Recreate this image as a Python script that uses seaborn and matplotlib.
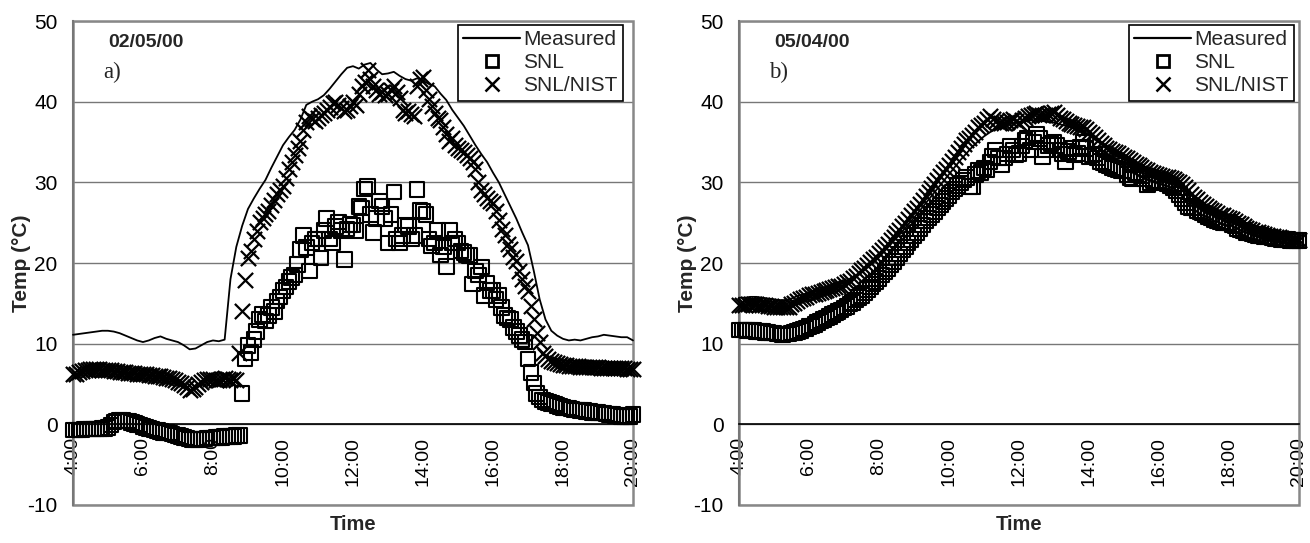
import numpy as np
import pandas as pd
import matplotlib
matplotlib.use('Agg')
import matplotlib.pyplot as plt
from matplotlib.lines import Line2D
from matplotlib.patches import Rectangle
import seaborn as sns

# model results every 5 minutes, measured line every 10 minutes (4:00 - 20:00)
minutes_5 = np.arange(0, 961, 5)
minutes_10 = np.arange(0, 961, 10)
hours_5 = 4 + minutes_5 / 60.0
hours_10 = 4 + minutes_10 / 60.0

tick_hours = [4, 6, 8, 10, 12, 14, 16, 18, 20]
tick_labels = ['4:00', '6:00', '8:00', '10:00', '12:00', '14:00', '16:00', '18:00', '20:00']
y_ticks = [-10, 0, 10, 20, 30, 40, 50]

# ---- panel a) 02/05/00 ----
a_measured = [
    11.1, 11.2, 11.3, 11.4, 11.5, 11.6,
    11.6, 11.5, 11.3, 11.0, 10.7, 10.4,
    10.2, 10.4, 10.7, 10.9, 10.6, 10.4,
    10.2, 9.8, 9.3, 9.4, 9.8, 10.2,
    10.4, 10.3, 10.5, 18.0, 22.0, 24.6,
    26.7, 28.0, 29.2, 30.3, 31.8, 33.2,
    34.6, 35.6, 36.5, 37.8, 39.6, 40.0,
    40.3, 40.8, 41.6, 42.5, 43.4, 44.2,
    44.4, 44.1, 44.6, 44.8, 44.0, 43.4,
    43.5, 43.7, 43.2, 42.8, 42.6, 42.9,
    42.6, 42.2, 41.9, 41.0, 40.2, 39.0,
    38.0, 37.0, 35.8, 34.6, 33.5, 32.5,
    31.2, 30.0, 28.5, 27.0, 25.5, 23.8,
    22.2, 19.0, 15.5, 13.0, 11.6, 11.0,
    10.6, 10.4, 10.5, 10.4, 10.6, 10.8,
    10.9, 11.1, 11.0, 10.9, 10.8, 10.8,
    10.4,
]
a_snl = [
    -0.7, -0.7, -0.7, -0.7, -0.6, -0.6, -0.6, -0.6, -0.6, -0.6, -0.5, -0.5,
    -0.4, -0.1, 0.3, 0.4, 0.5, 0.5, 0.4, 0.4, 0.2, 0.1, 0.0, -0.1,
    -0.3, -0.4, -0.5, -0.6, -0.7, -0.8, -0.9, -1.0, -1.0, -1.1, -1.2, -1.3,
    -1.4, -1.5, -1.6, -1.7, -1.8, -1.9, -1.9, -1.9, -1.8, -1.8, -1.7, -1.7,
    -1.7, -1.6, -1.6, -1.6, -1.5, -1.5, -1.5, -1.5, -1.4, -1.4, 3.8, 8.1,
    9.8, 8.9, 10.5, 11.5, 13.0, 13.6, 12.8, 13.5, 14.5, 14.0, 15.3, 15.8,
    16.6, 17.0, 17.7, 18.2, 18.5, 19.8, 21.7, 23.4, 21.9, 19.0, 22.5, 23.0,
    23.0, 20.6, 24.0, 25.5, 23.0, 22.5, 24.5, 25.1, 24.0, 20.4, 24.2, 24.8,
    24.7, 24.0, 27.0, 26.8, 29.2, 29.5, 26.0, 23.8, 25.5, 27.7, 27.0, 25.5,
    22.5, 26.0, 28.8, 23.0, 22.5, 23.4, 24.7, 24.5, 23.0, 23.4, 29.1, 26.5,
    26.4, 26.0, 23.0, 22.1, 22.5, 24.0, 21.0, 22.0, 19.6, 24.0, 22.5, 23.0,
    22.5, 21.5, 21.3, 21.0, 20.9, 17.4, 19.0, 18.5, 19.5, 16.0, 17.5, 16.6,
    16.6, 15.5, 16.0, 14.5, 13.5, 13.2, 13.0, 12.0, 11.5, 11.0, 10.5, 10.2,
    8.1, 6.4, 5.1, 3.8, 3.4, 3.0, 2.8, 2.7, 2.6, 2.5, 2.3, 2.2,
    2.1, 2.0, 2.0, 1.9, 1.8, 1.8, 1.7, 1.7, 1.6, 1.6, 1.5, 1.5,
    1.5, 1.4, 1.4, 1.3, 1.2, 1.2, 1.1, 1.1, 1.0, 1.0, 1.0, 1.0,
    1.2,
]
a_nist = [
    6.2, 6.3, 6.5, 6.6, 6.7, 6.7, 6.8, 6.8, 6.8, 6.8, 6.7, 6.7,
    6.7, 6.7, 6.6, 6.6, 6.5, 6.5, 6.5, 6.4, 6.4, 6.4, 6.3, 6.3,
    6.2, 6.2, 6.1, 6.1, 6.0, 6.0, 6.0, 5.9, 5.8, 5.7, 5.6, 5.5,
    5.3, 5.1, 4.9, 4.6, 4.3, 4.4, 4.6, 5.0, 5.3, 5.5, 5.6, 5.6,
    5.6, 5.5, 5.5, 5.6, 5.7, 5.6, 5.5, 5.6, 5.5, 8.9, 14.1, 17.9,
    20.6, 21.5, 23.0, 24.0, 25.1, 25.6, 26.1, 26.5, 27.2, 27.8, 28.5, 29.0,
    29.5, 30.5, 31.7, 32.5, 33.4, 34.2, 35.1, 36.5, 37.5, 38.2, 37.8, 37.6,
    38.0, 38.3, 38.6, 39.0, 39.4, 39.8, 40.0, 39.6, 39.2, 38.8, 39.0, 39.5,
    40.0, 39.6, 41.0, 42.0, 42.5, 43.9, 42.8, 42.0, 41.5, 40.9, 41.2, 40.8,
    41.0, 41.5, 42.0, 41.2, 40.5, 39.0, 38.6, 38.8, 38.5, 38.2, 42.0, 42.8,
    43.0, 41.5, 40.3, 39.5, 38.6, 38.0, 37.7, 36.8, 36.0, 35.1, 35.5, 34.6,
    34.2, 34.0, 33.8, 33.4, 33.0, 32.5, 31.7, 30.0, 29.1, 28.5, 28.0, 27.7,
    27.4, 26.5, 25.3, 24.2, 23.5, 22.3, 21.7, 20.8, 20.2, 19.0, 18.0, 17.2,
    16.5, 14.7, 13.0, 11.3, 10.2, 8.9, 8.5, 8.1, 7.9, 7.7, 7.6, 7.5,
    7.3, 7.3, 7.2, 7.2, 7.2, 7.2, 7.1, 7.1, 7.1, 7.1, 7.1, 7.1,
    7.1, 7.0, 7.0, 7.0, 7.0, 7.0, 7.0, 7.0, 7.0, 7.0, 6.9, 6.9,
    6.9,
]

# ---- panel b) 05/04/00 ----
b_measured = [
    15.7, 15.7, 15.8, 15.8, 15.7, 15.6,
    15.5, 15.4, 15.4, 15.6, 15.9, 16.1,
    16.3, 16.5, 16.7, 16.9, 17.1, 17.3,
    17.6, 17.9, 18.3, 18.8, 19.4, 20.0,
    20.7, 21.5, 22.3, 23.1, 23.9, 24.8,
    25.6, 26.5, 27.4, 28.3, 29.2, 30.1,
    31.0, 31.9, 32.8, 33.6, 34.4, 35.1,
    35.7, 36.2, 36.6, 36.9, 37.1, 37.3,
    37.5, 37.6, 37.7, 37.7, 37.6, 37.5,
    37.4, 37.2, 37.0, 36.8, 36.5, 36.2,
    35.8, 35.3, 34.8, 34.3, 33.8, 33.3,
    32.9, 32.5, 32.1, 31.7, 31.3, 31.0,
    30.7, 30.4, 30.1, 29.8, 29.3, 28.7,
    28.1, 27.5, 27.0, 26.5, 26.1, 25.8,
    25.5, 25.1, 24.8, 24.5, 24.2, 24.0,
    23.8, 23.6, 23.4, 23.3, 23.2, 23.1,
    23.0,
]
b_snl = [
    11.7, 11.7, 11.7, 11.6, 11.6, 11.6, 11.5, 11.5, 11.5, 11.4, 11.4, 11.3,
    11.3, 11.2, 11.2, 11.1, 11.2, 11.2, 11.3, 11.4, 11.5, 11.6, 11.8, 11.9,
    12.1, 12.2, 12.4, 12.6, 12.8, 13.0, 13.2, 13.4, 13.6, 13.8, 14.0, 14.2,
    14.4, 14.6, 14.9, 15.1, 15.4, 15.7, 16.0, 16.3, 16.7, 17.0, 17.4, 17.7,
    18.1, 18.5, 18.9, 19.3, 19.8, 20.2, 20.7, 21.1, 21.6, 22.0, 22.5, 22.9,
    23.4, 23.8, 24.3, 24.7, 25.2, 25.6, 26.0, 26.4, 26.8, 27.2, 27.6, 28.0,
    28.4, 28.8, 29.2, 29.6, 29.9, 30.3, 30.6, 29.5, 29.5, 31.0, 31.5, 31.2,
    31.8, 31.6, 32.5, 33.2, 34.0, 33.0, 32.2, 33.0, 33.5, 34.5, 34.0, 33.4,
    33.6, 34.5, 35.2, 35.5, 34.0, 35.0, 36.0, 35.4, 33.2, 34.0, 34.6, 34.8,
    35.0, 34.6, 34.0, 33.5, 32.5, 33.8, 34.2, 33.4, 33.6, 34.4, 35.0, 34.2,
    33.2, 33.4, 33.5, 33.0, 32.6, 32.4, 32.2, 32.0, 31.8, 31.7, 31.6, 31.5,
    31.4, 31.0, 30.6, 30.4, 31.2, 31.0, 30.8, 30.5, 29.7, 29.9, 30.2, 30.2,
    30.2, 30.1, 30.0, 29.8, 29.6, 29.3, 29.0, 28.5, 28.0, 27.5, 27.0, 26.9,
    26.8, 26.5, 26.3, 26.2, 26.0, 25.8, 25.6, 25.4, 25.2, 25.1, 25.0, 25.0,
    25.0, 24.8, 24.6, 24.3, 24.1, 24.0, 23.8, 23.7, 23.6, 23.5, 23.4, 23.4,
    23.3, 23.2, 23.2, 23.1, 23.0, 23.0, 22.9, 22.9, 22.9, 22.8, 22.8, 22.8,
    22.8,
]
b_nist = [
    14.8, 14.8, 14.8, 14.9, 14.9, 14.9, 14.9, 14.8, 14.8, 14.8, 14.7, 14.7,
    14.6, 14.6, 14.5, 14.5, 14.6, 14.6, 14.9, 15.1, 15.3, 15.5, 15.7, 15.8,
    16.0, 16.1, 16.2, 16.3, 16.4, 16.5, 16.6, 16.8, 16.9, 17.0, 17.1, 17.2,
    17.4, 17.6, 17.8, 18.1, 18.4, 18.7, 19.1, 19.4, 19.8, 20.1, 20.5, 20.8,
    21.2, 21.6, 22.0, 22.4, 22.8, 23.2, 23.7, 24.1, 24.6, 25.0, 25.5, 25.9,
    26.4, 26.8, 27.3, 27.8, 28.3, 28.8, 29.3, 29.8, 30.3, 30.8, 31.3, 31.7,
    32.2, 32.7, 33.2, 33.7, 34.3, 34.7, 35.2, 35.5, 35.9, 36.3, 36.8, 37.1,
    37.4, 37.8, 38.2, 37.9, 37.6, 37.4, 37.3, 37.4, 37.5, 37.7, 37.8, 37.6,
    37.4, 37.7, 38.0, 38.2, 38.4, 38.5, 38.6, 38.4, 38.3, 38.4, 38.5, 38.6,
    38.7, 38.4, 38.0, 37.8, 37.6, 37.4, 37.2, 37.1, 37.0, 36.9, 36.8, 36.6,
    36.3, 36.0, 35.6, 35.2, 34.9, 34.6, 34.3, 34.1, 33.9, 33.8, 33.6, 33.4,
    33.2, 33.0, 32.8, 32.5, 32.3, 32.1, 31.9, 31.7, 31.5, 31.3, 31.2, 31.0,
    30.9, 30.8, 30.7, 30.6, 30.5, 30.4, 30.2, 30.0, 29.8, 29.4, 29.0, 28.6,
    28.2, 27.9, 27.6, 27.3, 27.1, 26.8, 26.6, 26.4, 26.2, 26.0, 25.9, 25.7,
    25.6, 25.4, 25.2, 25.0, 24.8, 24.6, 24.4, 24.2, 24.1, 23.9, 23.8, 23.7,
    23.6, 23.5, 23.4, 23.3, 23.2, 23.2, 23.1, 23.0, 23.0, 22.9, 22.9, 22.9,
    22.9,
]


def draw_panel(ax, measured, snl, nist, date_text, letter, legend_x):
    line_df = pd.DataFrame({'hour': hours_10, 'temp': measured})
    model_df = pd.DataFrame({'hour': hours_5, 'snl': snl, 'nist': nist})

    # x axis crosses at 0 (set before tick styling, it resets the ticks)
    ax.spines['bottom'].set_position(('data', 0))

    sns.lineplot(data=line_df, x='hour', y='temp', ax=ax, color='black', lw=1.3,
                 clip_on=False, zorder=3)
    sns.scatterplot(data=model_df, x='hour', y='snl', ax=ax, marker='s', s=110,
                    facecolors='none', edgecolors='black', linewidth=1.5,
                    clip_on=False, zorder=4)
    sns.scatterplot(data=model_df, x='hour', y='nist', ax=ax, marker='x', s=120,
                    color='black', linewidth=1.6, clip_on=False, zorder=5)

    ax.set_xlim(4, 20)
    ax.set_ylim(-10, 50)
    ax.set_xticks(tick_hours)
    ax.set_xticklabels(tick_labels)
    ax.set_yticks(y_ticks)
    ax.set_yticklabels([str(v) for v in y_ticks])

    ax.spines['bottom'].set_color('black')
    ax.spines['bottom'].set_linewidth(1.2)
    ax.spines['left'].set_color('#777777')
    ax.spines['left'].set_linewidth(1.5)
    ax.spines['top'].set_visible(False)
    ax.spines['right'].set_visible(False)
    ax.add_patch(Rectangle((0, 0), 1, 1, transform=ax.transAxes, fill=False,
                           edgecolor='#888888', lw=1.8, clip_on=False, zorder=1))

    ax.tick_params(axis='x', direction='out', length=5, width=1, colors='black',
                   pad=4, labelrotation=90, labelsize=14)
    ax.tick_params(axis='y', direction='out', length=5, width=1, color='#777777',
                   labelcolor='black', pad=6, labelsize=15)
    ax.yaxis.grid(True, color='#777777', lw=1)
    ax.xaxis.grid(False)
    ax.set_axisbelow(True)

    ax.set_xlabel('Time', fontsize=14.5, fontweight='bold')
    ax.set_ylabel('Temp (°C)', fontsize=15, fontweight='bold')
    ax.xaxis.set_label_coords(0.5, -0.02)
    ax.yaxis.set_label_coords(-0.075, 0.5)

    ax.text(0.0625, 0.955, date_text, transform=ax.transAxes, fontsize=14,
            fontweight='bold', va='center', ha='left')
    ax.text(0.054, 0.893, letter, transform=ax.transAxes, fontsize=16.5,
            family=['Liberation Serif', 'DejaVu Serif'], va='center', ha='left')

    handles = [
        Line2D([], [], color='black', lw=1.6),
        Line2D([], [], ls='none', marker='s', ms=9, mfc='none', mec='black', mew=2),
        Line2D([], [], ls='none', marker='x', ms=9.5, color='black', mew=1.8),
    ]
    leg = ax.legend(handles, ['Measured', 'SNL', 'SNL/NIST'], loc='upper right',
                    bbox_to_anchor=(legend_x, 0.992), fontsize=15, frameon=True,
                    fancybox=False, framealpha=1, edgecolor='black', borderpad=0.25,
                    handlelength=2.75, handletextpad=0.15, labelspacing=0.2,
                    borderaxespad=0)
    leg.get_frame().set_linewidth(1.2)
    leg.set_zorder(10)


def main():
    sns.set_theme(style='white')
    plt.rcParams['font.family'] = ['Liberation Sans', 'DejaVu Sans']

    fig = plt.figure(figsize=(13.1, 5.43), dpi=100)
    ax_a = fig.add_axes([0.0557, 0.070, 0.4275, 0.8913])
    ax_b = fig.add_axes([0.5641, 0.070, 0.4275, 0.8913])

    draw_panel(ax_a, a_measured, a_snl, a_nist, '02/05/00', 'a)', 0.982)
    draw_panel(ax_b, b_measured, b_snl, b_nist, '05/04/00', 'b)', 0.991)

    fig.savefig('out.png', dpi=100, facecolor='white')


if __name__ == '__main__':
    main()
